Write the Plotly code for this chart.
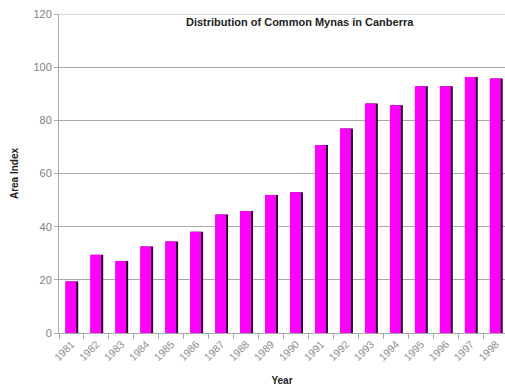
import plotly.graph_objects as go

years = ["1981", "1982", "1983", "1984", "1985", "1986", "1987", "1988", "1989",
         "1990", "1991", "1992", "1993", "1994", "1995", "1996", "1997", "1998"]
area_index = [19.4, 29.4, 27.1, 32.5, 34.4, 38.1, 44.6, 45.9, 51.9,
              52.9, 70.7, 76.9, 86.3, 85.7, 92.8, 92.8, 96.3, 95.7]
y_ticks = [0, 20, 40, 60, 80, 100, 120]

fig = go.Figure()
# dark shadow edge on the right of each bar
fig.add_trace(go.Bar(x=years, y=area_index, width=0.5, offset=-0.23,
                     marker=dict(color="#2a002a", line=dict(width=0)),
                     hoverinfo="skip", showlegend=False))
fig.add_trace(go.Bar(x=years, y=area_index, width=0.44, offset=-0.25,
                     marker=dict(color="#ff00ff", line=dict(width=0)),
                     showlegend=False))

fig.update_layout(
    width=505, height=389,
    margin=dict(l=59, r=0, t=14, b=56),
    barmode="overlay",
    paper_bgcolor="white", plot_bgcolor="white",
    font=dict(family="Liberation Sans, Arial, sans-serif", color="#808080", size=10),
    xaxis=dict(type="category", range=[-0.5, 17.36],
               tickangle=-45, tickfont=dict(size=10.5, color="#8f8f8f"),
               showgrid=False, zeroline=False, showline=True, linecolor="#a8a8a8",
               ticks="outside", tickson="boundaries", ticklen=5, tickcolor="#a8a8a8",
               title=dict(text="<b>Year</b>", font=dict(size=10, color="#222"),
                          standoff=15)),
    yaxis=dict(range=[0, 120], tickvals=y_ticks, showgrid=True, gridcolor="#a8a8a8",
               gridwidth=1, zeroline=False, showline=True, linecolor="#a8a8a8",
               ticks="outside", ticklen=4, tickcolor="#a8a8a8",
               tickfont=dict(size=11, color="#808080"),
               title=dict(text="<b>Area Index</b>", font=dict(size=10, color="#222"),
                          standoff=12)),
    shapes=[dict(type="line", xref="paper", x0=0.002, x1=1, yref="y", y0=120, y1=120,
                 line=dict(color="#dcdcdc", width=2), layer="above")],
    annotations=[dict(text="<b>Distribution of Common Mynas in Canberra</b>",
                      x=(300 - 59) / 446, xref="paper",
                      y=1 - (22 - 14) / (389 - 14 - 56), yref="paper",
                      xanchor="center", yanchor="middle", showarrow=False,
                      font=dict(size=11, color="#222"))],
)

fig.write_html("out.html")
